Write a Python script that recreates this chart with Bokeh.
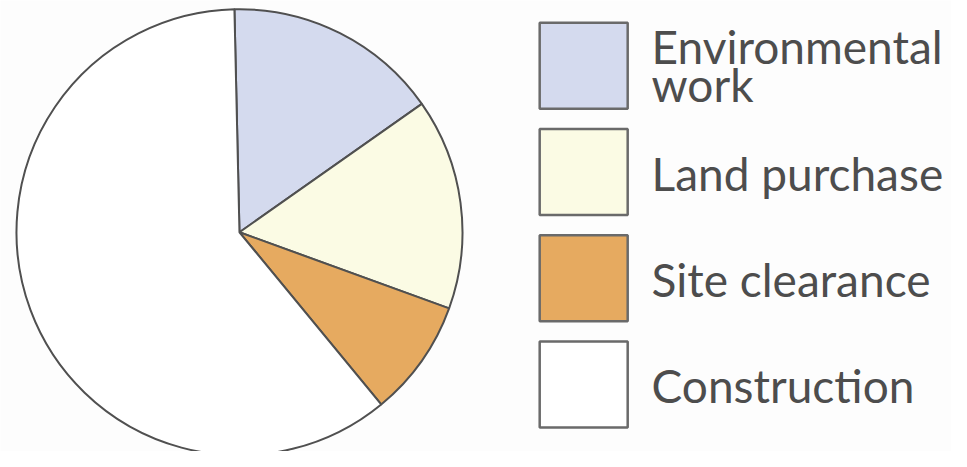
import numpy as np
from bokeh.plotting import figure
from bokeh.models import Range1d, ColumnDataSource
from bokeh.core.properties import value
from bokeh.embed import file_html
from bokeh.resources import INLINE

# ---- data ----
categories = ["Environmental work", "Land purchase", "Site clearance", "Construction"]
shares = [15.6, 15.3, 8.5, 60.6]
label_lines = [["Environmental", "work"], ["Land purchase"], ["Site clearance"], ["Construction"]]
colors = ["#d4daee", "#fbfbe4", "#e6aa60", "#ffffff"]

# ---- layout helpers (reference pixel coords -> data coords) ----
W, H = 951, 451
SX, SY = W / 967, H / 467
def X(px):
    return px * SX
def Y(py):
    return H - py * SY

p = figure(width=W, height=H, x_range=Range1d(0, W), y_range=Range1d(0, H),
           output_backend="svg", toolbar_location=None, min_border=0)
p.axis.visible = False
p.grid.visible = False
p.outline_line_color = None
p.background_fill_color = "#fdfdfd"
p.border_fill_color = "#fdfdfd"

# ---- pie ----
frac = np.array(shares) / np.sum(shares)
cum = np.concatenate([[0], np.cumsum(frac)])
top = np.pi / 2 + np.radians(1.3)
starts = top - cum[1:] * 2 * np.pi
ends = top - cum[:-1] * 2 * np.pi
src = ColumnDataSource(dict(cat=categories, start=starts, end=ends, color=colors))
p.wedge(x=X(243), y=Y(240), radius=223, start_angle="start", end_angle="end",
        direction="anticlock", fill_color="color", line_color="#505050",
        line_width=2, source=src)

# ---- legend ----
n = len(categories)
sq_y = [Y(67.5 + 110 * i) for i in range(n)]
p.rect(x=[X(593)] * n, y=sq_y, width=88, height=86, fill_color=colors,
       line_color="#6a6a6a", line_width=2.5)

BASE_FIX = 17  # compensate renderer baseline offset
tx, ty, tt = [], [], []
for i, lines in enumerate(label_lines):
    c = 67.5 + 110 * i
    if len(lines) == 1:
        bases = [c + 19]
    else:
        bases = [c - 2.5 + 40 * k for k in range(len(lines))]
    for b, t in zip(bases, lines):
        tx.append(X(662))
        ty.append(Y(b) + BASE_FIX)
        tt.append(t)
p.text(x=tx, y=ty, text=tt, text_font=value("Lato"), text_font_size="46px",
       text_baseline="alphabetic", text_align="left", text_color="#4d4d4d")

open("out.html", "w").write(file_html(p, INLINE))
